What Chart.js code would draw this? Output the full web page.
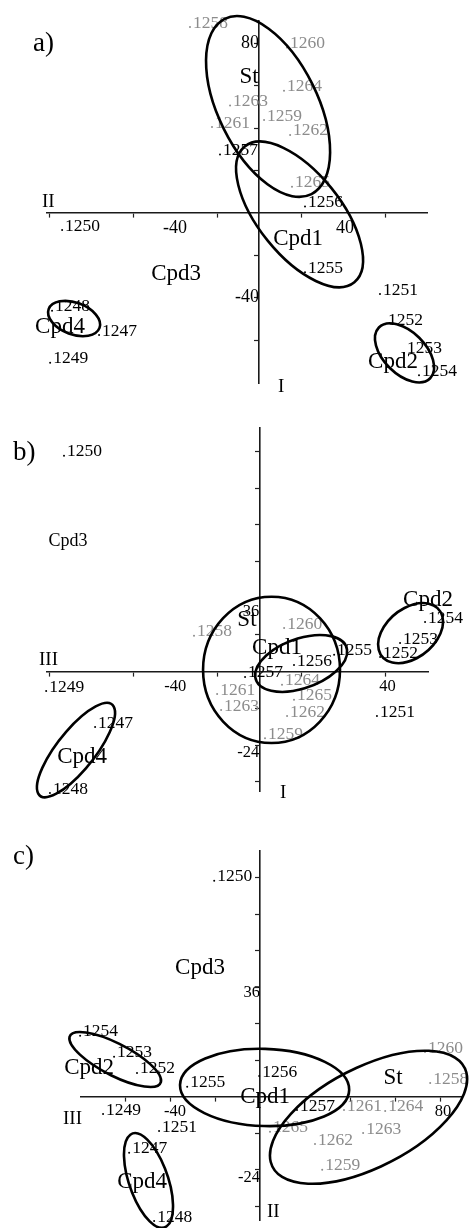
<!DOCTYPE html>
<html><head><meta charset="utf-8">
<script src="https://cdn.jsdelivr.net/npm/chart.js@4.4.1/dist/chart.umd.min.js"></script>
<style>
html,body{margin:0;padding:0;background:#fff;}
#wrap{position:relative;width:469px;height:1228px;overflow:hidden;background:#fff;}
canvas{position:absolute;left:0;}
</style></head><body><div id="wrap">
<canvas id="ca" width="469" height="400" style="top:0px"></canvas>
<canvas id="cb" width="469" height="410" style="top:400px"></canvas>
<canvas id="cc" width="469" height="418" style="top:810px"></canvas>
</div>
<script>
// ---------- shared categories ----------
const SAMPLE_IDS = ['1247','1248','1249','1250','1251','1252','1253','1254','1255','1256','1257','1258','1259','1260','1261','1262','1263','1264','1265'];
const ST_SAMPLES = ['1258','1259','1260','1261','1262','1263','1264','1265'];
const GROUP_NAMES = ['St','Cpd1','Cpd2','Cpd3','Cpd4'];
const ELLIPSE_GROUPS = ['St','Cpd1','Cpd2','Cpd4'];

// ---------- panel a (I vs II) ----------
const aX = [-76.2,-98.6,-99.5,-93.8,57.6,60.0,69.0,76.2,21.9,21.9,-18.6,-32.9,2.4,13.3,-22.4,14.8,-13.8,11.9,15.7];
const aY = [-57.6,-46.1,-70.6,-8.1,-38.2,-52.5,-66.0,-76.6,-28.0,3.0,27.5,87.7,43.8,78.0,40.5,36.8,50.7,57.6,12.3];
const aGroupX = [-4.8,18.6,63.8,-39.5,-94.8];
const aGroupY = [64.1,-12.3,-70.1,-28.9,-53.9];
// [centre x, centre y, semi-axis 1, semi-axis 2, angle deg]
const aEllipses = [[4.3,50.2,46.2,23.6,-63.4],[19.3,-0.7,41.3,19.6,-50.8],[69.3,-66.0,17.1,10.0,-44.4],[-88.1,-49.8,12.9,7.5,-20.1]];
const aXRange = [-101, 80];
const aYRange = [-80.3, 90.5];
const aXTickMarks = [-100,-60,-20,20,60];
const aXTickLabelAt = [-40, 41];
const aXTickLabels = ['-40','40'];
const aYTickMarks = [-60,-40,-20,20,40,60,80];
const aYTickLabelAt = [80,-40];
const aYTickLabels = ['80','-40'];

// ---------- panel b (I vs III) ----------
const bX = [-78.2,-99.7,-101.5,-93.0,56.0,57.5,67.0,78.9,35.6,16.5,-6.8,-31.1,2.7,11.8,-20.1,13.2,-18.2,10.8,16.5];
const bY = [-18.1,-39.6,-6.3,70.5,-14.5,4.8,9.4,16.2,5.5,2.2,-1.7,11.7,-21.7,14.3,-7.3,-14.5,-12.5,-4.3,-9.2];
const bGroupX = [-5.9,8.4,80.3,-91.1,-84.4];
const bGroupY = [16.9,7.7,23.4,42.7,-27.9];
const bEllipses = [[5.8,0.6,32.6,23.9,0],[19.9,2.7,22.3,8.3,11.6],[72.0,12.6,16.1,8.7,19.5],[-87.3,-25.6,22.9,7.6,38.3]];
const bXRange = [-101.1, 80.3];
const bYRange = [-39.2, 79.7];
const bXTickMarks = [-100,-60,-20,20,60];
const bXTickLabelAt = [-40, 61];
const bXTickLabels = ['-40','40'];
const bYTickMarks = [-36,-24,-12,12,24,36,48,60,72];
const bYTickLabelAt = [19.6,-26.6];
const bYTickLabels = ['36','-24'];

// ---------- panel c (II vs III) ----------
const cX = [-58.2,-47.1,-69.8,-20.4,-44.9,-54.7,-64.9,-80.0,-32.4,-0.4,16.4,75.6,27.6,73.3,37.3,24.4,45.8,55.6,4.4];
const cY = [-18.5,-40.9,-5.7,71.0,-11.3,7.8,13.1,20.0,3.2,6.8,-4.4,4.5,-24.1,14.7,-4.4,-15.6,-12.0,-4.7,-11.6];
const cGroupX = [59.1,2.2,-76.0,-26.7,-52.4];
const cGroupY = [6.1,-0.1,9.4,42.3,-28.0];
const cEllipses = [[48.2,-6.8,45.9,17.1,18.7],[2.0,3.0,37.6,12.7,-1.2],[-64.4,12.2,21.6,5.5,-20.1],[-49.6,-27.6,17.1,8.3,-61.8]];
const cXRange = [-79.6, 89.6];
const cYRange = [-40.6, 80.8];
const cXTickMarks = [-60,-40,-20,20,40,60,80];
const cXTickLabelAt = [-37.8, 81.3];
const cXTickLabels = ['-40','80'];
const cYTickMarks = [-36,-24,-12,12,24,36,48,60,72];
const cYTickLabelAt = [34.2,-26.7];
const cYTickLabels = ['36','-24'];

// ---------- drawing ----------
const FONT = "'Liberation Serif','Times New Roman',Times,serif";
const GRAY = '#8c8c8c';
const colorOf = id => ST_SAMPLES.includes(id) ? GRAY : '#000';

function buildTicks(marks, labelAt, labelText) {
  const map = new Map();
  marks.forEach(v => map.set(v, {value: v, mark: true, text: ''}));
  labelAt.forEach((v, i) => {
    const t = map.get(v) || {value: v, mark: false, text: ''};
    t.text = labelText[i];
    map.set(v, t);
  });
  return [...map.values()].sort((p, q) => p.value - q.value);
}

function axisOpts(range, pos, marks, labelAt, labelText, fontSize, pad) {
  return {
    type: 'linear', min: range[0], max: range[1], position: pos,
    afterBuildTicks: s => { s.ticks = buildTicks(marks, labelAt, labelText); },
    grid: {display: true, drawOnChartArea: false, drawTicks: true, tickLength: 4, tickWidth: 1.2,
      tickColor: c => (c.tick && c.tick.mark) ? '#222' : 'rgba(0,0,0,0)'},
    border: {display: true, color: '#1a1a1a', width: 1.6},
    ticks: {autoSkip: false, maxRotation: 0, minRotation: 0, padding: pad, color: '#000',
      font: {family: FONT, size: fontSize}, callback: (v, i, ts) => ts[i].text}
  };
}

const overlay = {
  id: 'overlay',
  afterDatasetsDraw(chart, args, o) {
    const ctx = chart.ctx, xs = chart.scales.x, ys = chart.scales.y;
    ctx.save();
    const meta = chart.getDatasetMeta(0);
    ctx.font = o.labelSize + 'px ' + FONT;
    ctx.textAlign = 'left'; ctx.textBaseline = 'middle';
    meta.data.forEach((el, i) => {
      const id = SAMPLE_IDS[i];
      ctx.fillStyle = colorOf(id);
      ctx.fillText(id, el.x + 3, el.y - 4);
    });
    ctx.textAlign = 'center';
    ctx.fillStyle = '#000';
    GROUP_NAMES.forEach((g, i) => {
      const size = (o.groupSize && o.groupSize[g]) || 23;
      ctx.font = size + 'px ' + FONT;
      ctx.fillText(g, xs.getPixelForValue(o.groupX[i]), ys.getPixelForValue(o.groupY[i]));
    });
    const sx = xs.getPixelForValue(1) - xs.getPixelForValue(0);
    const sy = ys.getPixelForValue(1) - ys.getPixelForValue(0);
    ctx.strokeStyle = '#000'; ctx.lineWidth = 2.6;
    o.ellipses.forEach(e => {
      ctx.save();
      ctx.translate(xs.getPixelForValue(e[0]), ys.getPixelForValue(e[1]));
      ctx.scale(sx, sy);
      ctx.rotate(e[4] * Math.PI / 180);
      ctx.beginPath();
      ctx.ellipse(0, 0, e[2], e[3], 0, 0, Math.PI * 2);
      ctx.restore();
      ctx.stroke();
    });
    ctx.textAlign = 'left';
    ctx.font = '19px ' + FONT;
    o.axisNames.forEach(a => ctx.fillText(a[0], a[1], a[2]));
    ctx.font = '27px ' + FONT;
    ctx.fillText(o.letter[0], o.letter[1], o.letter[2]);
    ctx.restore();
  }
};

function makePanel(id, xs, ys, gx, gy, ells, xr, yr, xm, xla, xlt, ym, yla, ylt, tickFont, xPad, yPad, padding, axisNames, letter, groupSize) {
  new Chart(document.getElementById(id), {
    type: 'scatter',
    data: {datasets: [{
      label: 'samples',
      data: SAMPLE_IDS.map((s, i) => ({x: xs[i], y: ys[i]})),
      pointRadius: 1, pointBorderWidth: 0,
      pointBackgroundColor: SAMPLE_IDS.map(colorOf),
      clip: false
    }]},
    options: {
      responsive: false, animation: false, devicePixelRatio: 1, events: [],
      layout: {padding: padding},
      plugins: {legend: {display: false}, tooltip: {enabled: false},
        overlay: {labelSize: 17.5, groupX: gx, groupY: gy, ellipses: ells, axisNames: axisNames, letter: letter, groupSize: groupSize}},
      scales: {
        x: axisOpts(xr, {y: 0}, xm, xla, xlt, tickFont, xPad),
        y: axisOpts(yr, {x: 0}, ym, yla, ylt, tickFont, yPad)
      }
    },
    plugins: [overlay]
  });
}

makePanel('ca', aX, aY, aGroupX, aGroupY, aEllipses, aXRange, aYRange,
  aXTickMarks, aXTickLabelAt, aXTickLabels, aYTickMarks, aYTickLabelAt, aYTickLabels,
  18, 1, 6, {left: 47, right: 42, top: 21, bottom: 10},
  [['II', 42, 202], ['I', 278, 387]], ['a)', 33, 44], {});
makePanel('cb', bX, bY, bGroupX, bGroupY, bEllipses, bXRange, bYRange,
  bXTickMarks, bXTickLabelAt, bXTickLabels, bYTickMarks, bYTickLabelAt, bYTickLabels,
  16.5, 1, -4, {left: 47, right: 41, top: 27.7, bottom: 18.3},
  [['III', 39, 260], ['I', 280, 393]], ['b)', 13, 53], {Cpd3: 18});
makePanel('cc', cX, cY, cGroupX, cGroupY, cEllipses, cXRange, cYRange,
  cXTickMarks, cXTickLabelAt, cXTickLabels, cYTickMarks, cYTickLabelAt, cYTickLabels,
  16.5, 1, -4, {left: 81, right: 7.3, top: 41, bottom: 8},
  [['III', 63, 309], ['II', 267, 402]], ['c)', 13, 47], {});
</script>
</body></html>
